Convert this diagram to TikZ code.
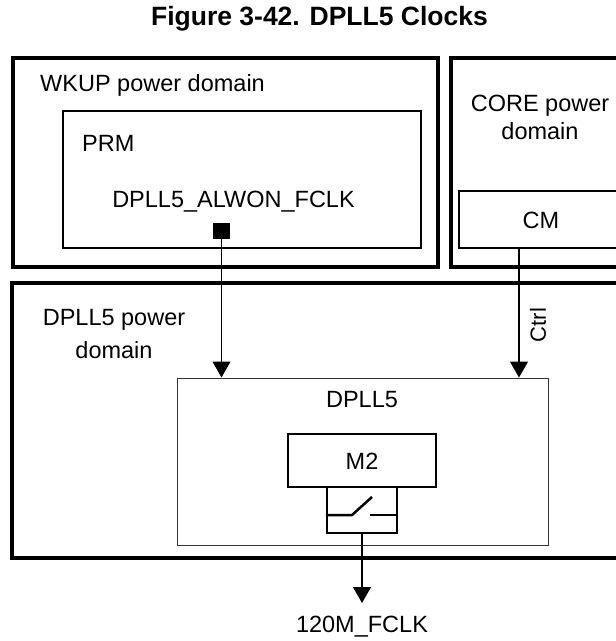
\documentclass[tikz,border=0pt]{standalone}
\usepackage{fontspec}
\setmainfont{Liberation Sans}
\usetikzlibrary{arrows.meta}
\begin{document}
\begin{tikzpicture}[x=1pt,y=-1pt,
  domainbox/.style={draw, line width=3.5pt, rectangle, inner sep=0pt},
  modbox/.style={draw, line width=2pt, rectangle, inner sep=0pt},
  thinbox/.style={draw=black!80, line width=1pt, rectangle, inner sep=0pt},
  lbl/.style={inner sep=0pt, font=\fontsize{23.5}{28}\selectfont},
  conn/.style={line width=1.1pt, -{Triangle[length=16pt,width=18pt]}}
]
\useasboundingbox (0,0) rectangle (616,641);
\clip (0,0) rectangle (616,641);

% title
\node[inner sep=0pt, font=\fontsize{26.5}{30}\selectfont\bfseries] (title) at (319.5,19) {Figure 3-42. DPLL5 Clocks};

% domains
\node[domainbox, minimum width=425pt, minimum height=209pt] (wkup) at (225.5,162.5) {};
\node[domainbox, minimum width=229pt, minimum height=209pt] (core) at (565.5,162.5) {};
\node[domainbox, minimum width=668pt, minimum height=275pt] (dpdom) at (346,420.5) {};

\node[lbl, anchor=west] (wkuplbl) at (40,85) {WKUP power domain};
\node[lbl, align=center] (corelbl) at (540,117) {CORE power\\domain};
\node[lbl, align=center, font=\fontsize{23.5}{33}\selectfont] (dplbl) at (114,334) {DPLL5 power\\domain};

% modules
\node[modbox, minimum width=358pt, minimum height=137pt] (prm) at (242,179.5) {};
\node[lbl, anchor=west] (prmlbl) at (82,143) {PRM};
\node[lbl] (fclk) at (233.5,202) {DPLL5\_ALWON\_FCLK};
\node[fill=black, draw=none, minimum width=17pt, minimum height=16pt, inner sep=0pt] (sq) at (221.5,231) {};

\node[modbox, minimum width=221pt, minimum height=57pt] (cm) at (569.5,219.5) {};
\node[lbl] (cmlbl) at (541,220) {CM};

\node[thinbox, minimum width=371pt, minimum height=167pt] (dpll) at (362.5,461.5) {};
\node[lbl] (dplllbl) at (362,400) {DPLL5};

\node[modbox, line width=2.5pt, minimum width=148pt, minimum height=53pt] (m2) at (362,460.5) {};
\node[lbl] (m2lbl) at (362,461) {M2};

\node[modbox, line width=2.5pt, minimum width=70pt, minimum height=46pt] (sw) at (362,510) {};
\draw[line width=2.5pt] (sw.west |- 0,515) -- (352,515) -- (372,497);
\draw[line width=2.5pt] (370,515) -- (sw.east |- 0,515);

% connectors
\draw[conn] (sq.south) -- (sq.south |- dpll.north);
\coordinate (ctrlA) at (519,248);
\draw[conn] (ctrlA) -- (ctrlA |- dpll.north);
\node[lbl, rotate=90, font=\fontsize{22}{26}\selectfont] (ctrl) at (538,325) {Ctrl};

\coordinate (outtip) at (362,603);
\draw[conn] (sw.south) -- (outtip);
\node[lbl] (outlbl) at (362,627) {120M\_FCLK};
\end{tikzpicture}
\end{document}
